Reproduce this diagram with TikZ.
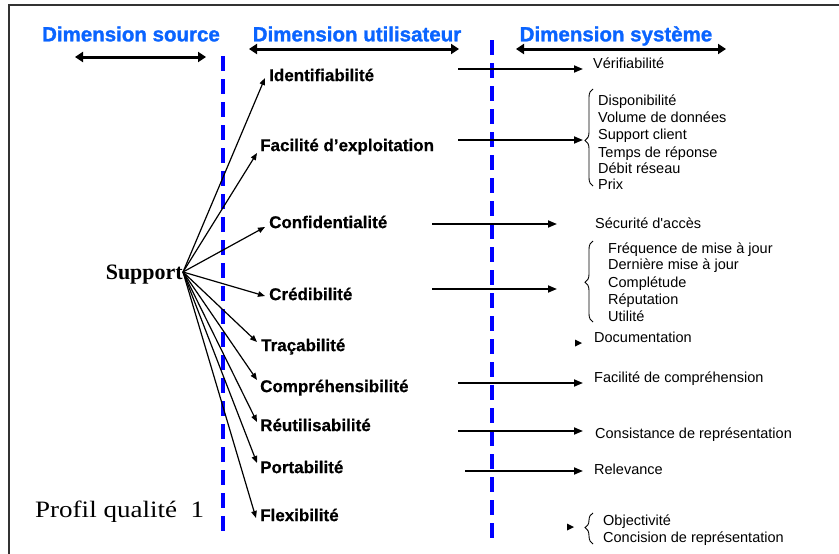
\documentclass[tikz,border=0pt]{standalone}
\usepackage{fontspec}
\newfontfamily\arialf{Liberation Sans}
\newfontfamily\headf[BoldFeatures={FakeBold=1.4}]{Liberation Sans}
\newfontfamily\critf[BoldFeatures={FakeBold=0.6}]{Liberation Sans}
\newfontfamily\timesf{Liberation Serif}
\usetikzlibrary{arrows.meta,decorations.pathreplacing}
\definecolor{headblue}{RGB}{10,100,255}
\definecolor{sepblue}{RGB}{0,0,255}
\definecolor{framegray}{RGB}{50,50,50}

\begin{document}
\begin{tikzpicture}[x=1pt,y=-1pt,
  header/.style={font=\headf\bfseries\fontsize{20.5}{24}\selectfont, text=headblue,
    inner sep=0pt, text height=14.7pt, text depth=0pt},
  userlbl/.style={font=\critf\bfseries\fontsize{17}{20}\selectfont, inner sep=0pt,
    anchor=west, text height=12.2pt, text depth=0pt},
  syslbl/.style={font=\arialf\fontsize{14.5}{17}\selectfont, inner sep=0pt,
    anchor=west, text height=10.4pt, text depth=0pt},
  span/.style={line width=3pt, {Triangle[length=8pt,width=10pt]}-{Triangle[length=8pt,width=10pt]}},
  fan/.style={line width=1.2pt, -{Triangle[length=7pt,width=5.5pt]}},
  link/.style={line width=1.8pt, -{Triangle[length=9pt,width=7pt]}},
  divider/.style={sepblue, line width=4.5pt, dash pattern=on 15pt off 8pt},
  groupbrace/.style={decorate, decoration={brace, amplitude=8pt, aspect=#1}, line width=0.9pt},
]
\useasboundingbox (0,0) rectangle (839,554);

% outer frame (open to the right and bottom)
\draw[framegray, line width=2pt] (9,554) -- (9,5) -- (839,5);

% column headers and their spans
\node[header] (hsrc) at (131,34) {Dimension source};
\node[header] (husr) at (357,34) {Dimension utilisateur};
\node[header] (hsys) at (616,34) {Dimension système};

\coordinate (srcL) at (75,57);  \coordinate (srcR) at (206,57);
\coordinate (usrL) at (249,49); \coordinate (usrR) at (459,49);
\coordinate (sysL) at (516,49); \coordinate (sysR) at (726,49);
\draw[span] (srcL) -- (srcR);
\draw[span] (usrL) -- (usrR);
\draw[span] (sysL) -- (sysR);

% column separators
\draw[divider] (223,56) -- (223,531);
\draw[divider] (492,40) -- (492,538);

% source side
\node[font=\timesf\bfseries\fontsize{22}{26}\selectfont, inner sep=0pt, anchor=east,
  text height=14.5pt, text depth=0pt] (sup) at (183,272) {Support};
\node[font=\timesf\fontsize{23.5}{28}\selectfont, inner sep=0pt, anchor=base west]
  (prof) at (35,517) {\scalebox{1.15}[1]{Profil qualité\ \ 1}};

% user dimension criteria
\node[userlbl] (idf)   at (269,75)  {Identifiabilité};
\node[userlbl] (fexp)  at (260,145) {Facilité d’exploitation};
\node[userlbl] (conf)  at (269,222) {Confidentialité};
\node[userlbl] (cred)  at (269,294) {Crédibilité};
\node[userlbl] (trac)  at (261,345) {Traçabilité};
\node[userlbl] (compr) at (260,386) {Compréhensibilité};
\node[userlbl] (reut)  at (260,425) {Réutilisabilité};
\node[userlbl] (port)  at (260,467) {Portabilité};
\node[userlbl] (flex)  at (260,515) {Flexibilité};

\draw[fan] (sup.east) -- ([shift={(-4,3)}]idf.west);
\draw[fan] (sup.east) -- ([shift={(-3,8)}]fexp.west);
\draw[fan] (sup.east) -- ([shift={(-4,5)}]conf.west);
\draw[fan] (sup.east) -- ([shift={(-4,2)}]cred.west);
\draw[fan] (sup.east) -- ([shift={(-4,-3)}]trac.west);
\draw[fan] (sup.east) -- ([shift={(-3,-6)}]compr.west);
\draw[fan] (sup.east) -- ([shift={(-3,-3)}]reut.west);
\draw[fan] (sup.east) -- ([shift={(-3,-4)}]port.west);
\draw[fan] (sup.east) -- ([shift={(-4,3)}]flex.west);

% system dimension
\node[syslbl] (verif) at (593,63) {Vérifiabilité};
\coordinate (lnIdf) at (458,69);
\draw[link] (lnIdf) -- ([shift={(-10,6)}]verif.west);

\node[syslbl] (dispo) at (598,100) {Disponibilité};
\node[syslbl] (volum) at (598,117) {Volume de données};
\node[syslbl] (suppc) at (598,134) {Support client};
\node[syslbl] (temps) at (598,152) {Temps de réponse};
\node[syslbl] (debit) at (598,168) {Débit réseau};
\node[syslbl] (prix)  at (598,184) {Prix};
\draw[groupbrace=0.47] (593,186) -- (593,89);
\coordinate (lnExp) at (458,140);
\coordinate (tipExp) at (583,140);
\draw[link] (lnExp) -- (tipExp);

\node[syslbl] (secu) at (595,223) {Sécurité d'accès};
\coordinate (lnConf) at (432,224);
\draw[link] (lnConf) -- ([shift={(-38,1)}]secu.west);

\node[syslbl] (freq) at (608,248) {Fréquence de mise à jour};
\node[syslbl] (dern) at (608,264) {Dernière mise à jour};
\node[syslbl] (cplt) at (608,282) {Complétude};
\node[syslbl] (repu) at (608,299) {Réputation};
\node[syslbl] (util) at (608,316) {Utilité};
\draw[groupbrace=0.49] (593,322) -- (593,241);
\coordinate (lnCred) at (432,289);
\coordinate (tipCred) at (557,289);
\draw[link] (lnCred) -- (tipCred);

\node[syslbl] (docu) at (594,337) {Documentation};
\fill (575,339.5) -- (582,343) -- (575,346.5) -- cycle;

\node[syslbl] (facc) at (594,377) {Facilité de compréhension};
\coordinate (lnComp) at (458,383);
\draw[link] (lnComp) -- ([shift={(-11,6)}]facc.west);

\node[syslbl] (cons) at (595,433) {Consistance de représentation};
\coordinate (lnReut) at (458,431);
\draw[link] (lnReut) -- ([shift={(-12,-2)}]cons.west);

\node[syslbl] (rele) at (594,469) {Relevance};
\coordinate (lnPort) at (465,471);
\draw[link] (lnPort) -- ([shift={(-11,2)}]rele.west);

\node[syslbl] (obje) at (603,520) {Objectivité};
\node[syslbl] (conc) at (603,537) {Concision de représentation};
\draw[groupbrace=0.53] (593,544) -- (593,513);
\fill (567,523.5) -- (574,527) -- (567,530.5) -- cycle;

\end{tikzpicture}
\end{document}
